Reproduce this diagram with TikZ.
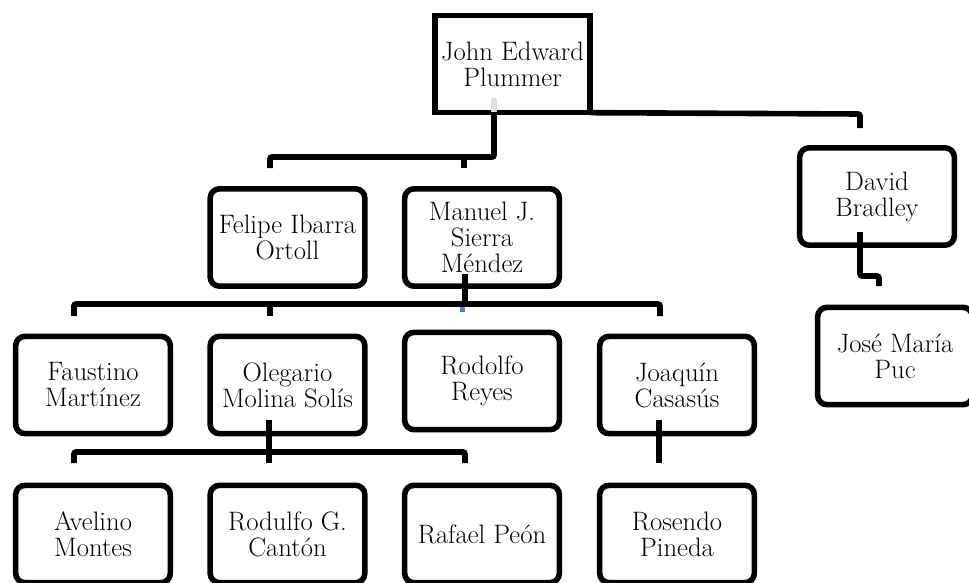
\documentclass[tikz,border=0pt]{standalone}
\usepackage{fontspec}
\definecolor{markblue}{HTML}{4F81BD}
\begin{document}
\begin{tikzpicture}[x=0.75pt,y=-0.75pt,
  person/.style={draw, fill=white, line width=4.2pt, rounded corners=7pt,
    minimum width=116pt, minimum height=73pt, inner sep=0pt, outer sep=0pt,
    align=center, font=\fontsize{20}{19.5}\selectfont},
  head/.style={person, sharp corners},
  link/.style={line width=4.2pt, rounded corners=1.5pt}
]
\useasboundingbox (0,0) rectangle (969,582);
\clip (0,0) rectangle (969,582);
\fill[white] (0,0) rectangle (969,582);

% boxes
\node[head]   (plummer)  at (512.5,64)  {John Edward\\Plummer};
\node[person] (ibarra)   at (287.5,237.5) {Felipe Ibarra\\Ortoll};
\node[person] (sierra)   at (482,237.5) {Manuel J.\\Sierra\\Méndez};
\node[person] (bradley)  at (877,196.5) {David\\Bradley};
\node[person] (martinez) at (93,385)    {Faustino\\Martínez};
\node[person] (molina)   at (287.5,385) {Olegario\\Molina Solís};
\node[person] (reyes)    at (482,381)   {Rodolfo\\Reyes};
\node[person] (casasus)  at (677,385)   {Joaquín\\Casasús};
\node[person] (puc)      at (895,356)   {José María\\Puc};
\node[person] (montes)   at (93,534)    {Avelino\\Montes};
\node[person] (canton)   at (287.5,534) {Rodulfo G.\\Cantón};
\node[person] (peon)     at (482,534)   {Rafael Peón};
\node[person] (pineda)   at (677,534)   {Rosendo\\Pineda};

% junction points of the connectors
\coordinate (p0) at (494,157);
\coordinate (p1) at (270,157);
\coordinate (p2) at (464,157);
\coordinate (q0) at (860,114);
\coordinate (s0) at (465,304);
\coordinate (s1) at (74,304);
\coordinate (s2) at (660,304);
\coordinate (m0) at (74,452);
\coordinate (m1) at (465,452);
\coordinate (b0) at (860,276);
\coordinate (b1) at (879,276);

% small marks left on the connectors
\fill[gray!25] (491,98) rectangle (497,112);
\fill[markblue] (460,306) rectangle (465,312);

% connectors
\draw[link] (plummer.south -| p0) -- (p0) -- (p1) -- ++(0,11);
\draw[link] (p2) -- ++(0,11);
\draw[link] (plummer.south east) -- (q0) -- ++(0,14);
\draw[link] (sierra.south -| s0) ++(0,-12) -- (s0);
\draw[link] (s1) ++(0,12) -- (s1) -- (s2) -- ++(0,12);
\draw[link] (270,304) -- ++(0,12);
\draw[link] (molina.south -| 269,0) ++(0,-14) -- (269,463);
\draw[link] (m0) ++(0,11) -- (m0) -- (m1) -- ++(0,11);
\draw[link] (casasus.south -| 659,0) ++(0,-14) -- (659,463);
\draw[link] (bradley.south -| b0) ++(0,-13) -- (b0) -- (b1) -- ++(0,10);
\end{tikzpicture}
\end{document}
